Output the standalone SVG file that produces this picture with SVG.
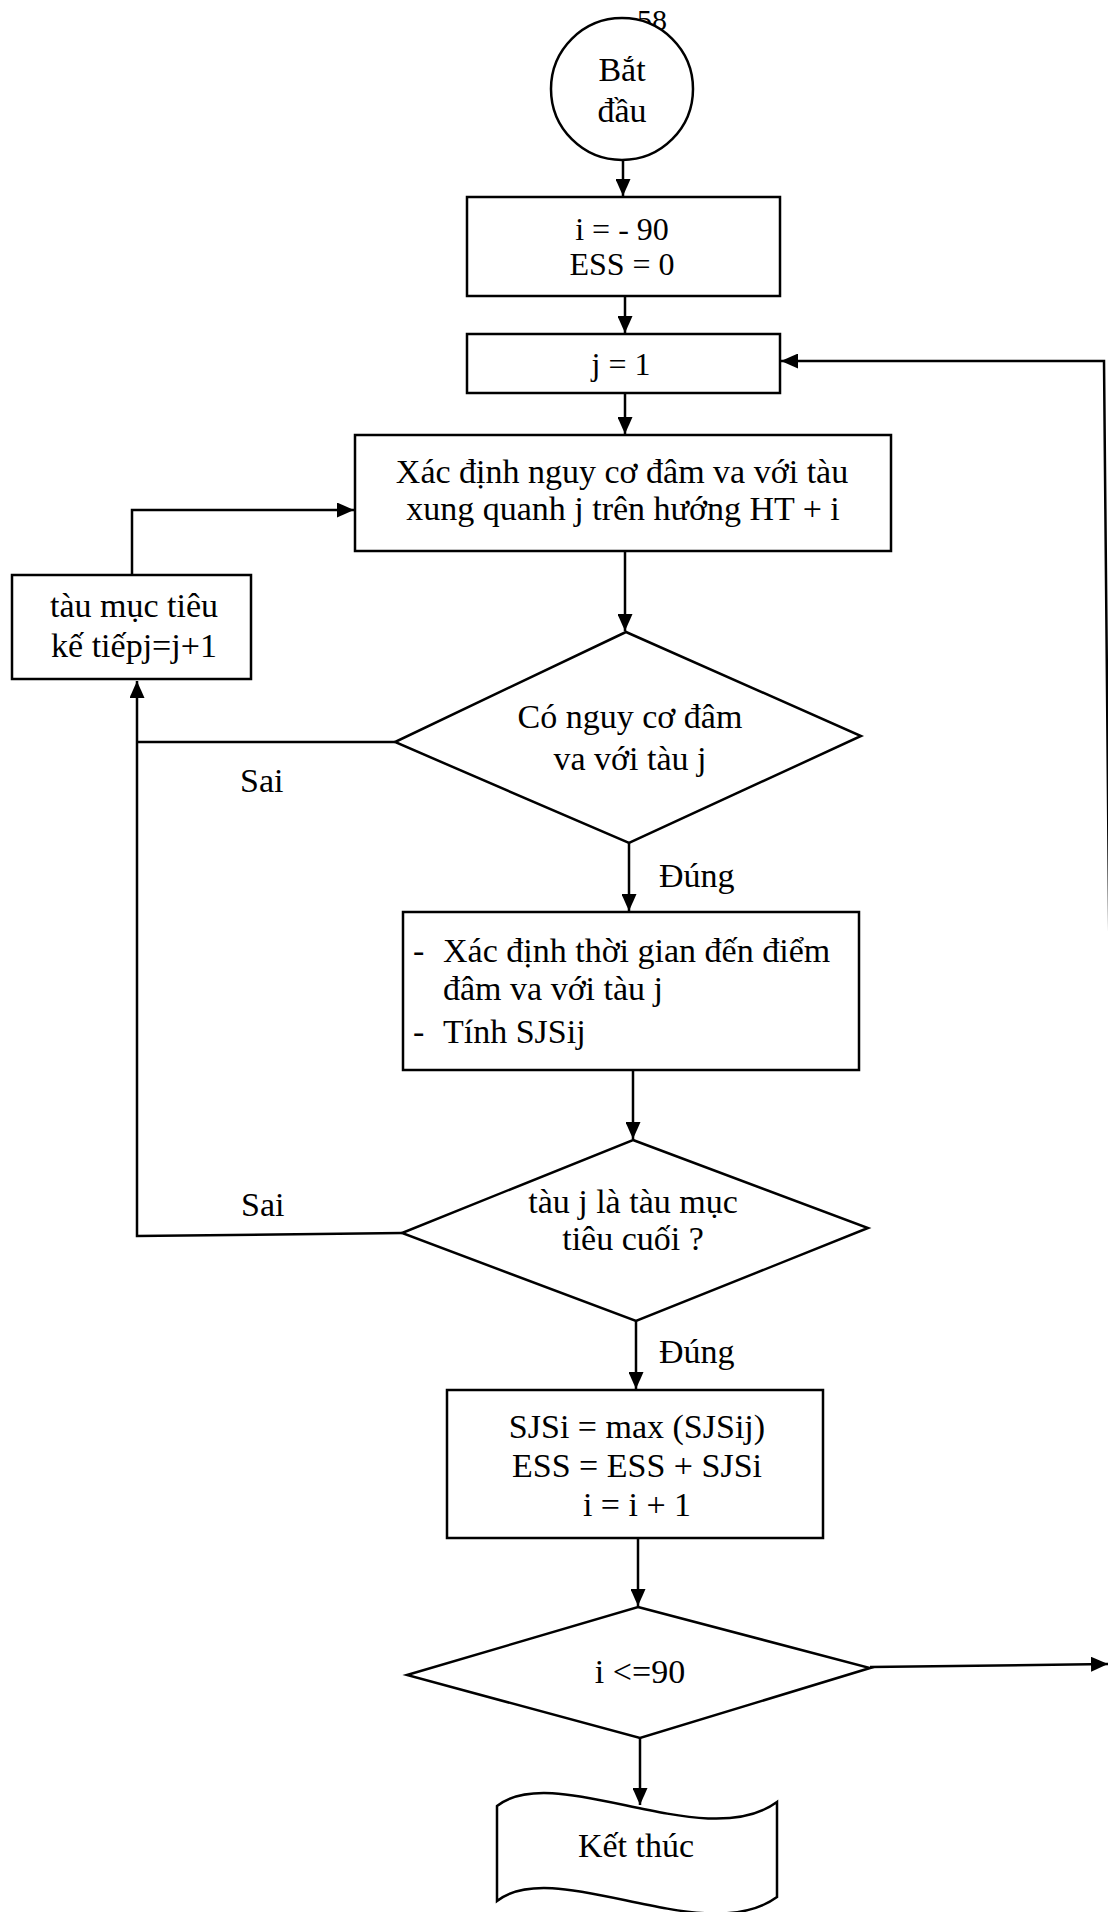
<svg xmlns="http://www.w3.org/2000/svg" width="1108" height="1912" viewBox="0 0 1108 1912">
<defs>
<style>
.shape{fill:#ffffff;stroke:#000000;stroke-width:2.5}
.conn{fill:none;stroke:#000000;stroke-width:2.5}
text{font-family:"Liberation Serif","Times New Roman",serif;font-size:34px;fill:#000000}
.c{text-anchor:middle}
</style>
<marker id="arrow" markerUnits="userSpaceOnUse" markerWidth="17" markerHeight="15" viewBox="0 0 17 15" refX="17" refY="7.5" orient="auto">
<path d="M0,0 L17,7.5 L0,15 z" fill="#000000"/>
</marker>
</defs>
<rect x="0" y="0" width="1108" height="1912" fill="#ffffff"/>

<text x="637" y="30" style="font-size:30px">58</text>

<g id="connectors">
<path class="conn" d="M623,160 V196" marker-end="url(#arrow)"/>
<path class="conn" d="M625,296 V333" marker-end="url(#arrow)"/>
<path class="conn" d="M625,393 V434" marker-end="url(#arrow)"/>
<path class="conn" d="M625,551 V631" marker-end="url(#arrow)"/>
<path class="conn" d="M629,843 V911" marker-end="url(#arrow)"/>
<path class="conn" d="M633,1070 V1139" marker-end="url(#arrow)"/>
<path class="conn" d="M636,1321 V1389" marker-end="url(#arrow)"/>
<path class="conn" d="M638,1538 V1606" marker-end="url(#arrow)"/>
<path class="conn" d="M640,1738 V1805" marker-end="url(#arrow)"/>
<path class="conn" d="M395,742 H137"/>
<path class="conn" d="M402,1233 L137,1236 V681" marker-end="url(#arrow)"/>
<path class="conn" d="M132,575 V510 H354" marker-end="url(#arrow)"/>
<path class="conn" d="M870,1667 L1108,1664" marker-end="url(#arrow)"/>
<path class="conn" d="M1116,1664 L1104,361 H781" marker-end="url(#arrow)"/>
<text x="659" y="887">Đúng</text>
<text x="659" y="1363">Đúng</text>
<text x="240" y="792">Sai</text>
<text x="241" y="1216">Sai</text>
</g>

<g id="start">
<circle class="shape" cx="622" cy="89" r="71"/>
<text class="c" x="622" y="81">Bắt</text>
<text class="c" x="622" y="122">đầu</text>
</g>

<g id="init">
<rect class="shape" x="467" y="197" width="313" height="99"/>
<text class="c" x="622" y="240" style="font-size:32px">i = - 90</text>
<text class="c" x="622" y="275" style="font-size:32px">ESS = 0</text>
</g>

<g id="setj">
<rect class="shape" x="467" y="334" width="313" height="59"/>
<text class="c" x="621" y="375" style="font-size:32px">j = 1</text>
</g>

<g id="risk">
<rect class="shape" x="355" y="435" width="536" height="116"/>
<text class="c" x="622" y="483">Xác định nguy cơ đâm va với tàu</text>
<text class="c" x="623" y="520">xung quanh j trên hướng HT + i</text>
</g>

<g id="next">
<rect class="shape" x="12" y="575" width="239" height="104"/>
<text class="c" x="134" y="617">tàu mục tiêu</text>
<text class="c" x="134" y="657">kế tiếpj=j+1</text>
</g>

<g id="decision1">
<polygon class="shape" points="626,632 861,736 629,843 395,742"/>
<text class="c" x="630" y="728">Có nguy cơ đâm</text>
<text class="c" x="630" y="770">va với tàu j</text>
</g>

<g id="compute">
<rect class="shape" x="403" y="912" width="456" height="158"/>
<text x="413" y="962">-</text>
<text x="443" y="962">Xác định thời gian đến điểm</text>
<text x="443" y="1000">đâm va với tàu j</text>
<text x="413" y="1043">-</text>
<text x="443" y="1043">Tính SJSij</text>
</g>

<g id="decision2">
<polygon class="shape" points="633,1140 868,1228 636,1321 402,1233"/>
<text class="c" x="633" y="1213">tàu j là tàu mục</text>
<text class="c" x="633" y="1250">tiêu cuối ?</text>
</g>

<g id="update">
<rect class="shape" x="447" y="1390" width="376" height="148"/>
<text class="c" x="637" y="1438">SJSi = max (SJSij)</text>
<text class="c" x="637" y="1477">ESS = ESS + SJSi</text>
<text class="c" x="637" y="1516">i = i + 1</text>
</g>

<g id="decision3">
<polygon class="shape" points="638,1607 870,1668 640,1738 407,1675"/>
<text class="c" x="640" y="1683">i &lt;=90</text>
</g>

<g id="end">
<path class="shape" d="M497,1806 C555,1760 705,1855 777,1802 L777,1897 C705,1950 555,1855 497,1901 Z"/>
<text class="c" x="636" y="1857">Kết thúc</text>
</g>
</svg>
